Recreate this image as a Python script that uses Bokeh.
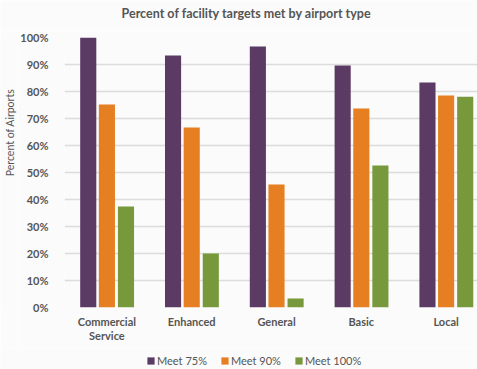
import math
from bokeh.plotting import figure
from bokeh.layouts import column, row
from bokeh.models import ColumnDataSource, FixedTicker, Legend, LegendItem, Range1d, Label
from bokeh.embed import file_html
from bokeh.resources import INLINE

categories = ["Commercial\nService", "Enhanced", "General", "Basic", "Local"]
series_names = ["Meet 75%", "Meet 90%", "Meet 100%"]
meet75 = [100.0, 93.3, 96.7, 89.6, 83.3]
meet90 = [75.2, 66.7, 45.6, 73.7, 78.5]
meet100 = [37.4, 20.0, 3.3, 52.6, 78.1]
colors = ["#5b3a64", "#e67e22", "#77983b"]
yticks = [0, 10, 20, 30, 40, 50, 60, 70, 80, 90, 100]
chart_title = "Percent of facility targets met by airport type"
y_title = "Percent of Airports"

FONT = "Lato"
GREY = "#555555"
BG = "#fbfbfb"

W, H = 477, 369
TH = 30   # title strip height
LH = 22   # legend strip height
LW = 17   # y-title strip width
PH = H - TH - LH


def strip(w, h, xr=(0, 1), yr=(0, 1)):
    f = figure(width=w, height=h, output_backend="svg", toolbar_location=None,
               x_range=Range1d(*xr), y_range=Range1d(*yr),
               min_border=0, min_border_left=0, min_border_right=0,
               min_border_top=0, min_border_bottom=0,
               x_axis_location=None, y_axis_location=None)
    f.grid.visible = False
    f.outline_line_color = None
    f.background_fill_color = BG
    f.border_fill_color = BG
    return f


p = figure(width=W - LW, height=PH, output_backend="svg", toolbar_location=None,
           x_range=Range1d(0, 4.87), y_range=Range1d(0, 100),
           min_border_left=61 - LW, min_border_right=0, min_border_top=37 - TH,
           min_border_bottom=40)
p.background_fill_color = BG
p.border_fill_color = BG
p.outline_line_color = None

offsets = [-0.22, 0.0, 0.225]
width = 0.19
renderers = []
for vals, off, col in zip([meet75, meet90, meet100], offsets, colors):
    xs = [i + 0.5 + off for i in range(len(categories))]
    src = ColumnDataSource(dict(x=xs, top=vals))
    r = p.vbar(x="x", top="top", width=width, bottom=0, source=src,
               fill_color=col, line_color=None)
    renderers.append(r)

p.xaxis.ticker = FixedTicker(ticks=[i + 0.5 for i in range(len(categories))])
p.xaxis.major_label_overrides = {i + 0.5: c for i, c in enumerate(categories)}
p.xaxis.axis_line_color = None
p.xaxis.major_tick_line_color = None
p.xaxis.minor_tick_line_color = None
p.xaxis.major_label_text_font = FONT
p.xaxis.major_label_text_font_size = "11px"
p.xaxis.major_label_text_font_style = "bold"
p.xaxis.major_label_text_color = GREY
p.xaxis.major_label_text_line_height = 1.1
p.xaxis.major_label_standoff = 1

p.yaxis.ticker = FixedTicker(ticks=yticks)
p.yaxis.major_label_overrides = {t: f"{t}%" for t in yticks}
p.yaxis.axis_line_color = None
p.yaxis.major_tick_line_color = None
p.yaxis.minor_tick_line_color = None
p.yaxis.major_label_text_font = FONT
p.yaxis.major_label_text_font_size = "11px"
p.yaxis.major_label_text_font_style = "bold"
p.yaxis.major_label_text_color = GREY
p.yaxis.major_label_standoff = 10

p.xgrid.grid_line_color = None
p.ygrid.grid_line_color = "#dcdcdc"
p.ygrid.grid_line_width = 1.5

# title strip
tf = strip(W, TH)
tf.add_layout(Label(x=246, y=TH - 13, x_units="screen", y_units="screen", text=chart_title,
                    text_align="center", text_baseline="middle", text_font=FONT,
                    text_font_size="12.5px", text_font_style="bold", text_color=GREY))

# y-axis title strip
yf = strip(LW, PH)
yf.add_layout(Label(x=9.5, y=PH - (172 - TH), x_units="screen", y_units="screen", text=y_title,
                    angle=math.pi / 2, text_align="center", text_baseline="middle",
                    text_font=FONT, text_font_size="10.5px", text_color=GREY))

# legend strip: same series drawn off-view, only their legend swatches show
lf = strip(W, LH, xr=(100, 101), yr=(1000, 1001))
lrs = []
for vals, off, col in zip([meet75, meet90, meet100], offsets, colors):
    xs = [i + 0.5 + off for i in range(len(categories))]
    lrs.append(lf.vbar(x=xs, top=vals, width=width, bottom=0, fill_color=col, line_color=None))
legend = Legend(items=[LegendItem(label=n, renderers=[r]) for n, r in zip(series_names, lrs)],
                orientation="horizontal", location=(146, 2),
                label_text_font=FONT, label_text_font_size="11px", label_text_color=GREY,
                glyph_width=9, glyph_height=9, label_standoff=2, spacing=13,
                padding=0, margin=0, border_line_color=None,
                background_fill_alpha=0)
lf.add_layout(legend)

layout = column(tf, row(yf, p, spacing=0), lf, spacing=0)
open("out.html", "w").write(file_html(layout, INLINE))
